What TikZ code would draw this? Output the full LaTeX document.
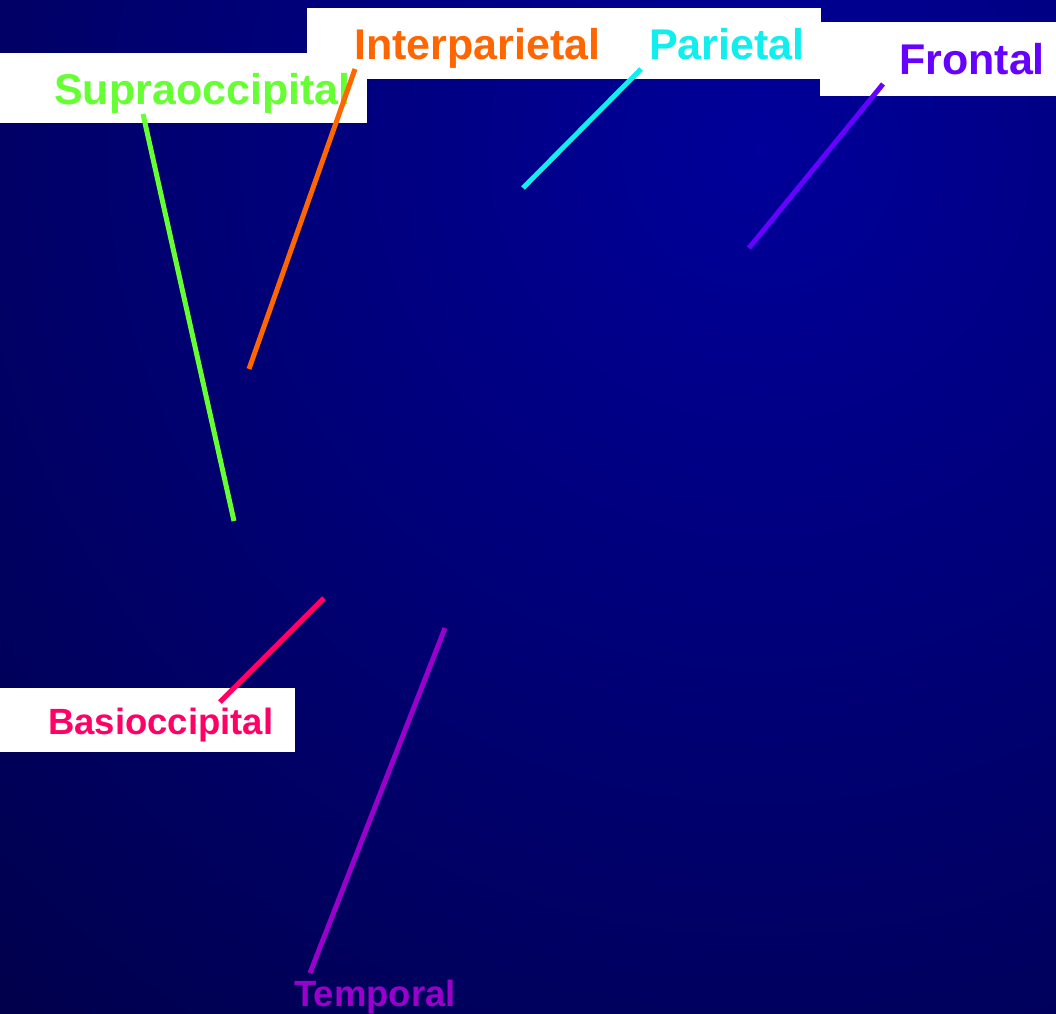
\documentclass[tikz,border=0pt]{standalone}
\usepackage{fontspec}
\setmainfont{Liberation Sans}
\definecolor{bgin}{HTML}{00009A}
\definecolor{bgout}{HTML}{00003E}
\definecolor{supra}{HTML}{66FF33}
\definecolor{inter}{HTML}{FF6600}
\definecolor{pari}{HTML}{11EEEE}
\definecolor{front}{HTML}{6600FF}
\definecolor{basi}{HTML}{FF0066}
\definecolor{tempo}{HTML}{9900CC}
\tikzset{
	bigname/.style={inner sep=0pt, anchor=base west, font=\bfseries\fontsize{43}{50}\selectfont},
	smallname/.style={inner sep=0pt, anchor=base west, font=\bfseries\fontsize{36.5}{43}\selectfont},
	bone/.style={line width=5pt}
}

\begin{document}
\begin{tikzpicture}[x=1pt,y=-1pt]
	\useasboundingbox (0,0) rectangle (1056,1013);
	\begin{scope}
	\clip (0,0) rectangle (1056,1013);
	\shade[inner color=bgin, outer color=bgout] (760,150) circle (1350pt);
	\end{scope}
	\fill[white] (307,8) rectangle (821,79);
	\fill[white] (0,53) rectangle (367,123);
	\fill[white] (820,22) rectangle (1056,96);
	\fill[white] (0,688) rectangle (295,752);
	\node[bigname,text=supra] (S) at (54,104) {Supraoccipital};
	\node[bigname,text=inter] (I) at (354,59) {Interparietal};
	\node[bigname,text=pari] (P) at (649,59) {Parietal};
	\node[bigname,text=front] (F) at (899,74) {Frontal};
	\node[smallname,text=basi] (B) at (48,734) {Basioccipital};
	\node[smallname,text=tempo] (T) at (294,1006) {Temporal};
	\coordinate (S1) at (143,114);
	\coordinate (S2) at (234,521);
	\coordinate (I1) at (355,69);
	\coordinate (I2) at (249,369);
	\coordinate (P1) at (641,69);
	\coordinate (P2) at (523,188);
	\coordinate (F1) at (883,84);
	\coordinate (F2) at (749,248);
	\coordinate (B1) at (220,702);
	\coordinate (B2) at (324,598);
	\coordinate (T1) at (310,973);
	\coordinate (T2) at (445,628);
	\draw[bone,supra] (S1) -- (S2);
	\draw[bone,inter] (I1) -- (I2);
	\draw[bone,pari] (P1) -- (P2);
	\draw[bone,front] (F1) -- (F2);
	\draw[bone,basi] (B1) -- (B2);
	\draw[bone,tempo] (T1) -- (T2);
\end{tikzpicture}
\end{document}
